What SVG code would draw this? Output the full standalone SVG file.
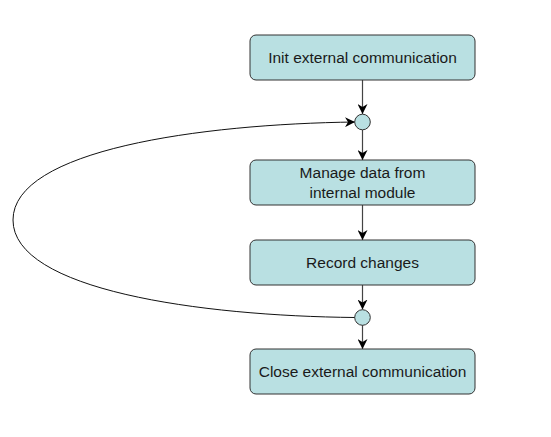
<svg xmlns="http://www.w3.org/2000/svg" width="551" height="437" viewBox="0 0 551 437">
<style>
.node rect{fill:#b9e0e2;stroke:#333;stroke-width:1}
.node circle{fill:#b9e0e2;stroke:#333;stroke-width:1}
.node text{font-family:"Liberation Sans",Arial,sans-serif;font-size:15.5px;fill:#1a1a1a;text-anchor:middle;dominant-baseline:central}
.edge{fill:none;stroke:#444;stroke-width:1.2;marker-end:url(#arr)}
.loop{fill:none;stroke:#111;stroke-width:1;marker-end:url(#arr)}
</style>
<defs>
<marker id="arr" viewBox="0 0 10 10" refX="10" refY="5" markerWidth="10" markerHeight="10" markerUnits="userSpaceOnUse" orient="auto">
<path d="M0,0 L10,5 L0,10 L3,5 Z" fill="#000"/>
</marker>
</defs>
<rect width="551" height="437" fill="#fff"/>
<g id="connectors">
<line class="edge" x1="362.5" y1="80" x2="362.5" y2="114"/>
<line class="edge" x1="362.5" y1="130" x2="362.5" y2="160"/>
<line class="edge" x1="362.5" y1="205" x2="362.5" y2="240"/>
<line class="edge" x1="362.5" y1="285" x2="362.5" y2="309.5"/>
<line class="edge" x1="362.5" y1="325" x2="362.5" y2="349"/>
<path class="loop" d="M355,317.5 C200,316 13,290 13,220 C13,150 200,124 355,122"/>
</g>
<g id="init" class="node"><rect x="250" y="35" width="225" height="45" rx="6"/><text x="362.5" y="57.5">Init external communication</text></g>
<g id="merge" class="node"><circle cx="362.5" cy="122" r="7.8"/></g>
<g id="manage" class="node"><rect x="250" y="160" width="225" height="45" rx="6"/><text x="362.5" y="172">Manage data from</text><text x="362.5" y="192">internal module</text></g>
<g id="record" class="node"><rect x="250" y="240" width="225" height="45" rx="6"/><text x="362.5" y="262.5">Record changes</text></g>
<g id="decision" class="node"><circle cx="362.5" cy="317.5" r="7.8"/></g>
<g id="close" class="node"><rect x="250" y="349" width="225" height="45" rx="6"/><text x="362.5" y="371.5">Close external communication</text></g>
</svg>
